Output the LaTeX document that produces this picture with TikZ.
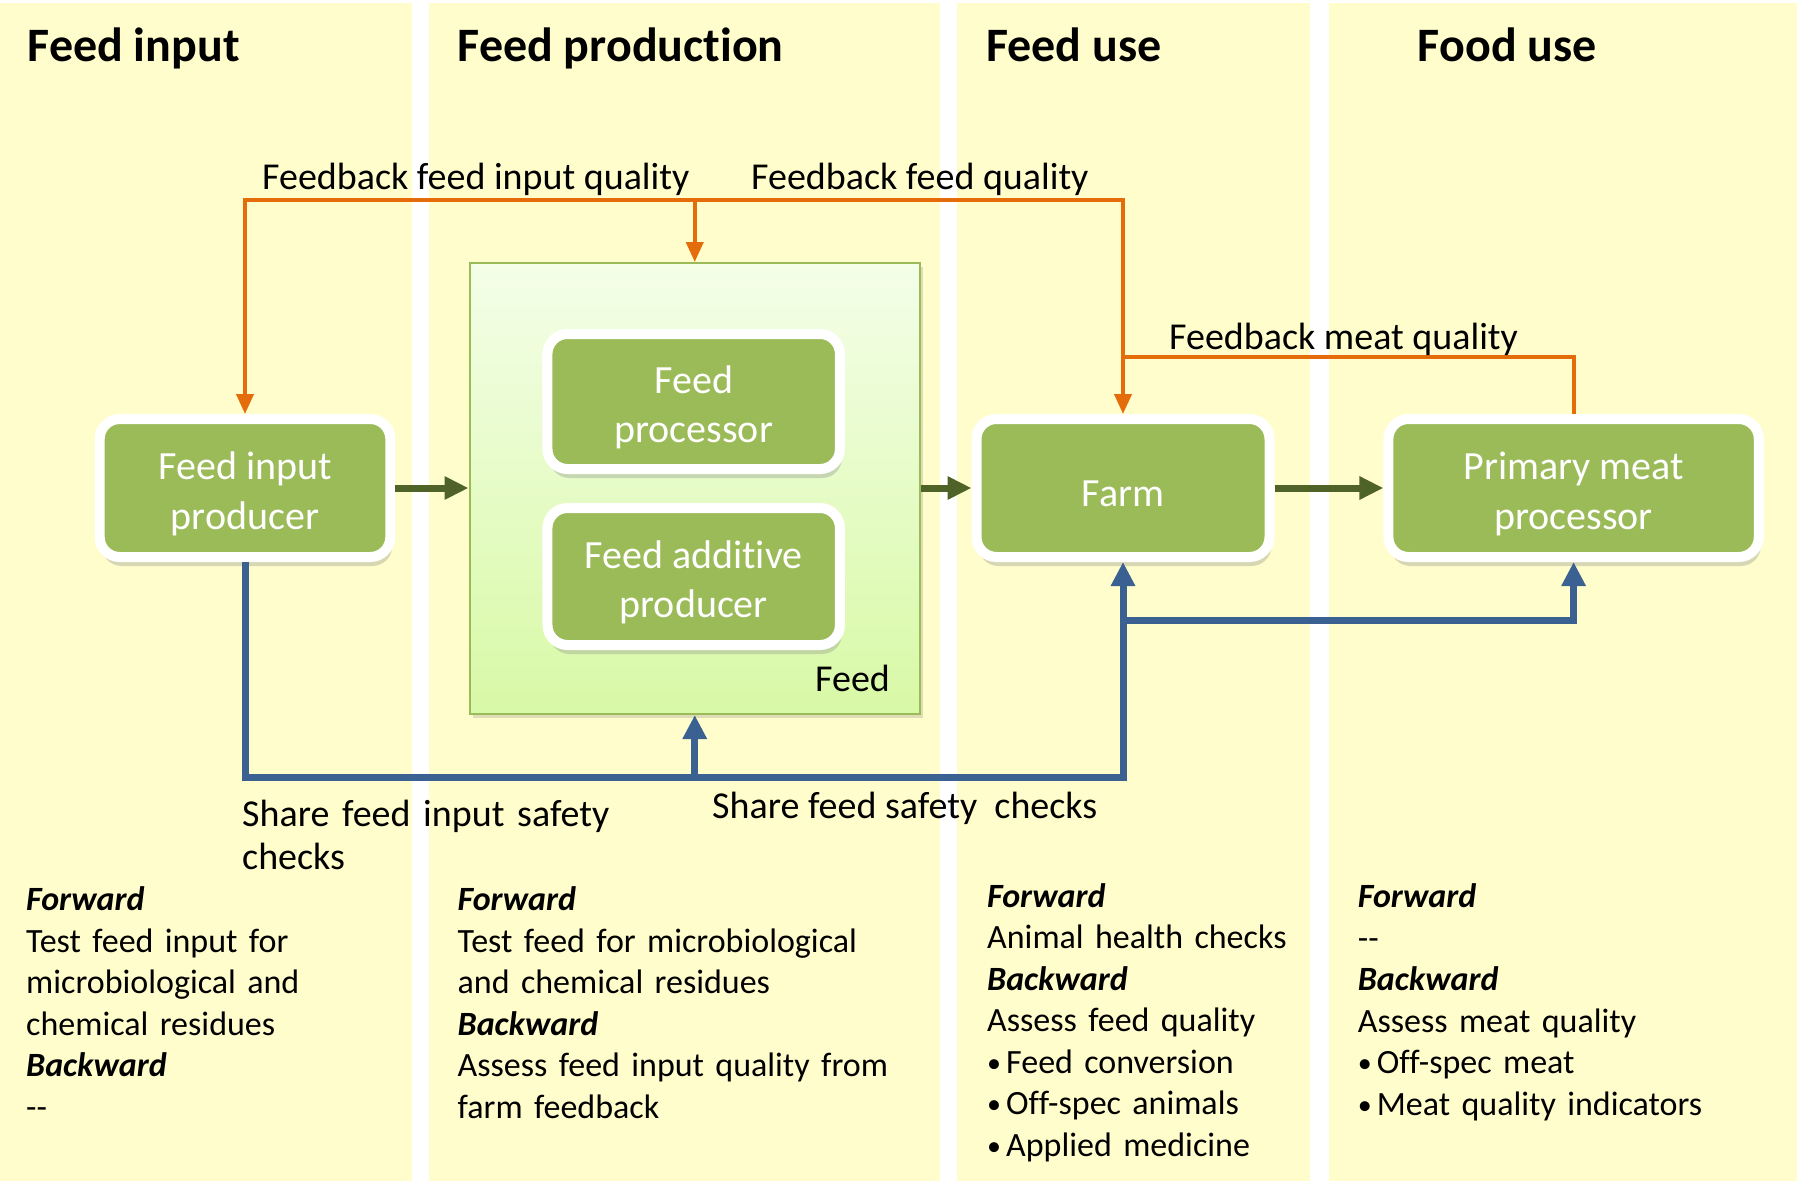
\documentclass[tikz,border=0pt]{standalone}
\usepackage{fontspec}
\setmainfont{Carlito}[Ligatures={TeX,NoCommon}]
\usetikzlibrary{arrows.meta,shadows}

\definecolor{bandYellow}{HTML}{FFFDCB}
\definecolor{boxGreen}{HTML}{9BBB59}
\definecolor{flowOlive}{HTML}{4F6228}
\definecolor{checkBlue}{HTML}{3A6191}
\definecolor{backOrange}{HTML}{E46C0A}
\definecolor{feedTop}{HTML}{F4FEE8}
\definecolor{feedBottom}{HTML}{D8F9A6}

\newcommand{\hd}[1]{\textbf{\textit{#1}}}
\newcommand{\bul}{\makebox[19pt][l]{\raisebox{1pt}{\fontsize{28}{28}\selectfont•}}}

\begin{document}
\begin{tikzpicture}
[x=1pt, y=-1pt,
  bandDecorate/.style={fill=bandYellow, draw=none},
  titleDecorate/.style={anchor=base west, inner sep=0pt, font=\fontsize{48}{58}\selectfont\bfseries},
  nodeDecorate/.style={shape=rectangle, rounded corners=20pt, fill=boxGreen, draw=white,
    line width=10pt, drop shadow={shadow xshift=2pt, shadow yshift=-9pt, opacity=.3}},
  boxText/.style={text=white, align=center, font=\fontsize{40}{49.5}\selectfont, yshift=-6pt},
  feedDecorate/.style={shape=rectangle, draw=boxGreen, line width=2pt, top color=feedTop,
    bottom color=feedBottom, minimum width=450.5pt, minimum height=451pt,
    drop shadow={shadow xshift=3pt, shadow yshift=-4pt, opacity=.25}},
  labelDecorate/.style={anchor=base west, inner sep=0pt, align=left, font=\fontsize{38}{43}\selectfont},
  bodyDecorate/.style={anchor=base west, inner sep=0pt, align=left, font=\fontsize{34}{41.5}\selectfont},
  flowArrow/.style={-{Triangle[length=24pt,width=22pt]}, line width=7pt, draw=flowOlive},
  shareLine/.style={line width=7pt, draw=checkBlue},
  shareArrow/.style={shareLine, -{Triangle[length=24pt,width=23pt]}},
  feedbackLine/.style={line width=4pt, draw=backOrange},
  feedbackArrow/.style={feedbackLine, -{Triangle[length=20pt,width=17pt]}}]
\useasboundingbox (0,0) rectangle (1797,1181);
%% background bands
\foreach \xa/\xb in {0/411.6, 429.4/940, 957/1310, 1329/1797}
{
  \fill[bandDecorate] (\xa,3) rectangle (\xb,1181);
}
%% stage titles
\node (titleInput) at (27.5,61) [titleDecorate] {Feed input};
\node (titleProduction) at (457.5,61) [titleDecorate] {Feed product\kern0pt ion};
\node (titleUse) at (985.8,61) [titleDecorate] {Feed use};
\node (titleFood) at (1417.7,61) [titleDecorate] {Food use};
%% feed container
\node (feed) at (694.75,488.5) [feedDecorate] {};
\node (feedLabel) at (815,691) [labelDecorate] {Feed};
%% actors
\foreach \nodename/\x/\y/\w/\h/\txt in {
  inputProducer/245/488/290.6/138/{Feed input\\producer},
  feedProcessor/693.7/401.5/292.5/135/{Feed\\processor},
  additiveProducer/693.7/576.5/292.5/137/{Feed additive\\producer},
  farm/1123/488/293/138/{Farm},
  meatProcessor/1573.6/488/370.4/138/{Primary meat\\processor}}
{
  \node (\nodename) at (\x,\y) [nodeDecorate, minimum width=\w pt, minimum height=\h pt,
    label={[boxText]center:{\txt}}] {};
}
%% product flow
\draw[flowArrow] (inputProducer.east) -- (feed.west |- inputProducer.east);
\draw[flowArrow] (feed.east |- farm.west) -- (farm.west);
\draw[flowArrow] (farm.east) -- (meatProcessor.west);
%% feedback lines
\coordinate (fbTop) at (694.75,200);
\coordinate (meatLevel) at (0,357);
\draw[feedbackArrow] (fbTop) -| (inputProducer.north);
\draw[feedbackArrow] (fbTop) -| (farm.north);
\draw[feedbackArrow] (fbTop) -- (feed.north);
\draw[feedbackLine] (meatProcessor.north) |- (farm.north |- meatLevel);
%% safety check lines
\coordinate (shareJoin) at (694.75,777);
\coordinate (shareMid) at (0,620);
\draw[shareArrow] (inputProducer.south) |- (shareJoin) -| (farm.south);
\draw[shareArrow] (shareJoin) -- (feed.south);
\draw[shareArrow] (farm.south |- shareMid) -| (meatProcessor.south);
%% line labels
\node (fbInputLabel) at (262,189) [labelDecorate] {Feedback feed input quality};
\node (fbFeedLabel) at (751,189) [labelDecorate] {Feedback feed quality};
\node (fbMeatLabel) at (1169,349) [labelDecorate] {Feedback meat quality};
\node (shareInputLabel) at (242,826) [labelDecorate, text width=400pt] {Share feed input safety\\checks};
\node (shareFeedLabel) at (712,818.6) [labelDecorate] {Share feed safety~~checks};
%% checks per stage
\node (checksInput) at (26,910.5) [bodyDecorate, text width=380pt]
  {\hd{Forward}\\Test feed input for\\microbiological and\\chemical residues\\\hd{Backward}\\-{}-};
\node (checksProduction) at (457.5,910.5) [bodyDecorate, text width=470pt]
  {\hd{Forward}\\Test feed for microbiological\\and chemical residues\\\hd{Backward}\\Assess feed input quality from\\farm feedback};
\node (checksUse) at (987,907) [bodyDecorate, text width=330pt]
  {\hd{Forward}\\Animal health checks\\\hd{Backward}\\Assess feed quality\\\bul Feed conversion\\\bul Off-spec animals\\\bul Applied medicine};
\node (checksFood) at (1357.7,907.5) [bodyDecorate, text width=420pt]
  {\hd{Forward}\\-{}-\\\hd{Backward}\\Assess meat quality\\\bul Off-spec meat\\\bul Meat quality indicators};
\end{tikzpicture}
\end{document}
